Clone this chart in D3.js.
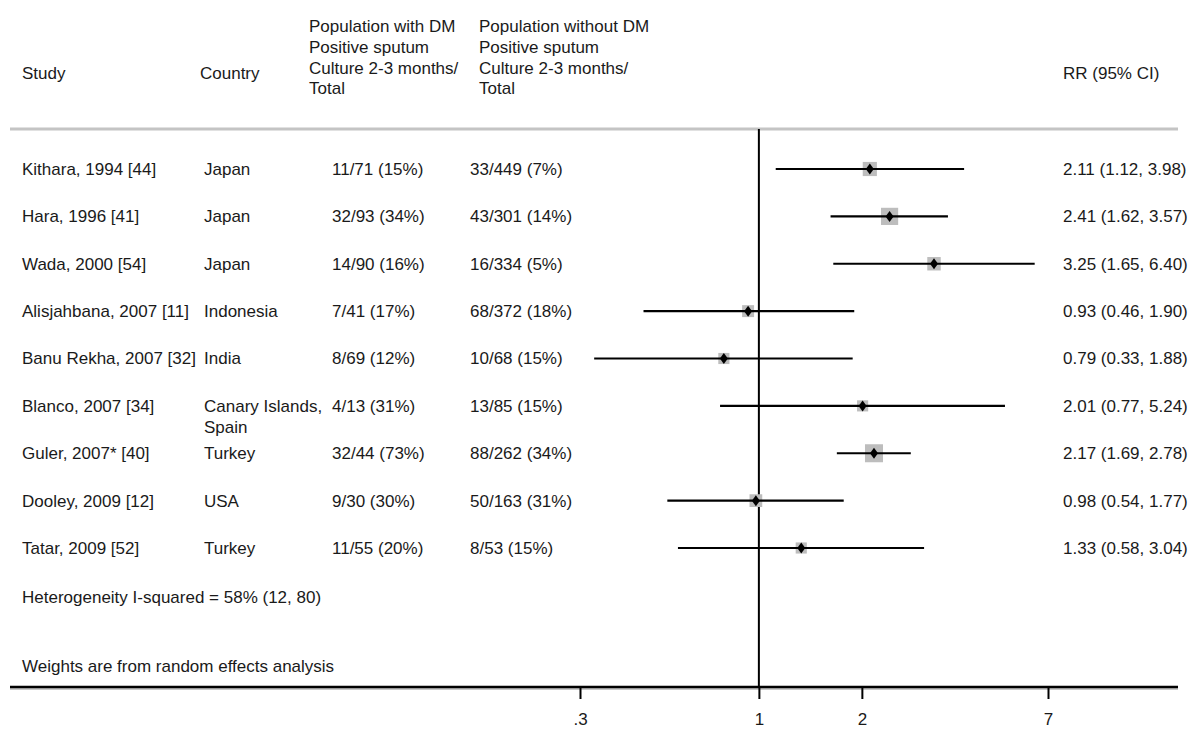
<!DOCTYPE html>
<html>
<head>
<meta charset="utf-8">
<script src="https://cdn.jsdelivr.net/npm/d3@7"></script>
<style>
  body { margin: 0; background: #fff; }
  text { font-family: "Liberation Sans", Arial, sans-serif; fill: #1a1a1a; }
</style>
</head>
<body>
<div id="chart"></div>
<script>
// study rows
const studies = ["Kithara, 1994 [44]", "Hara, 1996 [41]", "Wada, 2000 [54]",
    "Alisjahbana, 2007 [11]", "Banu Rekha, 2007 [32]", "Blanco, 2007 [34]",
    "Guler, 2007* [40]", "Dooley, 2009 [12]", "Tatar, 2009 [52]"];
const countries = [["Japan"], ["Japan"], ["Japan"], ["Indonesia"], ["India"],
    ["Canary Islands,", "Spain"], ["Turkey"], ["USA"], ["Turkey"]];
const withDM = ["11/71 (15%)", "32/93 (34%)", "14/90 (16%)", "7/41 (17%)", "8/69 (12%)",
    "4/13 (31%)", "32/44 (73%)", "9/30 (30%)", "11/55 (20%)"];
const withoutDM = ["33/449 (7%)", "43/301 (14%)", "16/334 (5%)", "68/372 (18%)", "10/68 (15%)",
    "13/85 (15%)", "88/262 (34%)", "50/163 (31%)", "8/53 (15%)"];
const rr =   [2.11, 2.41, 3.25, 0.93, 0.79, 2.01, 2.17, 0.98, 1.33];
const low =  [1.12, 1.62, 1.65, 0.46, 0.33, 0.77, 1.69, 0.54, 0.58];
const high = [3.98, 3.57, 6.40, 1.90, 1.88, 5.24, 2.78, 1.77, 3.04];
// approximate weights (%)
const weights = [10.5, 15.5, 9.5, 7.5, 6.5, 6.5, 17, 8.5, 6.5];
const tickVals = [0.3, 1, 2, 7];
const tickLabels = [".3", "1", "2", "7"];

const width = 1200, height = 745;

const svg = d3.select("#chart").append("svg")
    .attr("width", width)
    .attr("height", height);

const x = d3.scaleLog().domain([0.3, 7]).range([580, 1048]);
const y = d3.scalePoint().domain(d3.range(studies.length)).range([169, 548]);
const boxSide = d3.scaleSqrt().domain([0, 17]).range([0, 18]);

const fs = "17px";

// header
const headers = [
    { x: 22, lines: ["Study"], top: 73 },
    { x: 200, lines: ["Country"], top: 73 },
    { x: 309, lines: ["Population with DM", "Positive sputum", "Culture 2-3 months/", "Total"], top: 26 },
    { x: 479, lines: ["Population without DM", "Positive sputum", "Culture 2-3 months/", "Total"], top: 26 },
    { x: 1063, lines: ["RR (95% CI)"], top: 73 }
];
headers.forEach(h => {
    h.lines.forEach((l, i) => {
        svg.append("text")
            .attr("x", h.x)
            .attr("y", h.top + i * 20.8)
            .attr("dy", "0.35em")
            .style("font-size", fs)
            .text(l);
    });
});

// header separator
svg.append("line")
    .attr("x1", 10).attr("x2", 1178)
    .attr("y1", 129).attr("y2", 129)
    .style("stroke", "#c4c4c4")
    .style("stroke-width", 3);

// null line
svg.append("line")
    .attr("x1", x(1)).attr("x2", x(1))
    .attr("y1", 129).attr("y2", 687)
    .style("stroke", "#000")
    .style("stroke-width", 2);

// table text
const rows = svg.append("g");
studies.forEach((s, i) => {
    const cy = y(i);
    rows.append("text").attr("x", 22).attr("y", cy).attr("dy", "0.35em").style("font-size", fs).text(s);
    countries[i].forEach((c, j) => {
        rows.append("text").attr("x", 204).attr("y", cy + j * 21).attr("dy", "0.35em").style("font-size", fs).text(c);
    });
    rows.append("text").attr("x", 332).attr("y", cy).attr("dy", "0.35em").style("font-size", fs).text(withDM[i]);
    rows.append("text").attr("x", 470).attr("y", cy).attr("dy", "0.35em").style("font-size", fs).text(withoutDM[i]);
    rows.append("text").attr("x", 1063).attr("y", cy).attr("dy", "0.35em").style("font-size", fs)
        .text(rr[i].toFixed(2) + " (" + low[i].toFixed(2) + ", " + high[i].toFixed(2) + ")");
});

// weight boxes
svg.append("g")
    .selectAll("rect")
    .data(rr)
    .join("rect")
    .attr("x", (d, i) => x(d) - boxSide(weights[i]) / 2)
    .attr("y", (d, i) => y(i) - boxSide(weights[i]) / 2)
    .attr("width", (d, i) => boxSide(weights[i]))
    .attr("height", (d, i) => boxSide(weights[i]))
    .style("fill", "#bdbdbd");

// confidence intervals
svg.append("g")
    .selectAll("line")
    .data(rr)
    .join("line")
    .attr("x1", (d, i) => x(low[i]))
    .attr("x2", (d, i) => x(high[i]))
    .attr("y1", (d, i) => y(i))
    .attr("y2", (d, i) => y(i))
    .style("stroke", "#000")
    .style("stroke-width", 2.2);

// point estimates
svg.append("g")
    .selectAll("path")
    .data(rr)
    .join("path")
    .attr("transform", (d, i) => "translate(" + x(d) + "," + y(i) + ")")
    .attr("d", "M0,-5.5L4,0L0,5.5L-4,0Z")
    .style("fill", "#000");

// notes
svg.append("text").attr("x", 22).attr("y", 597).attr("dy", "0.35em").style("font-size", fs)
    .text("Heterogeneity I-squared = 58% (12, 80)");
svg.append("text").attr("x", 22).attr("y", 666).attr("dy", "0.35em").style("font-size", fs)
    .text("Weights are from random effects analysis");

// x axis
svg.append("line")
    .attr("x1", 10).attr("x2", 1178)
    .attr("y1", 688).attr("y2", 688)
    .style("stroke", "#c8c8c8")
    .style("stroke-width", 4);
svg.append("line")
    .attr("x1", 10).attr("x2", 1178)
    .attr("y1", 687).attr("y2", 687)
    .style("stroke", "#000")
    .style("stroke-width", 2.5);

const axis = svg.append("g")
    .attr("transform", "translate(0,687)")
    .call(d3.axisBottom(x)
        .tickValues(tickVals)
        .tickFormat((d, i) => tickLabels[i])
        .tickSize(12)
        .tickPadding(14));
axis.select(".domain").remove();
axis.selectAll(".tick line").style("stroke", "#000").style("stroke-width", 2);
axis.selectAll(".tick text")
    .style("font-family", "'Liberation Sans', Arial, sans-serif")
    .style("font-size", fs)
    .style("fill", "#1a1a1a");
</script>
</body>
</html>
